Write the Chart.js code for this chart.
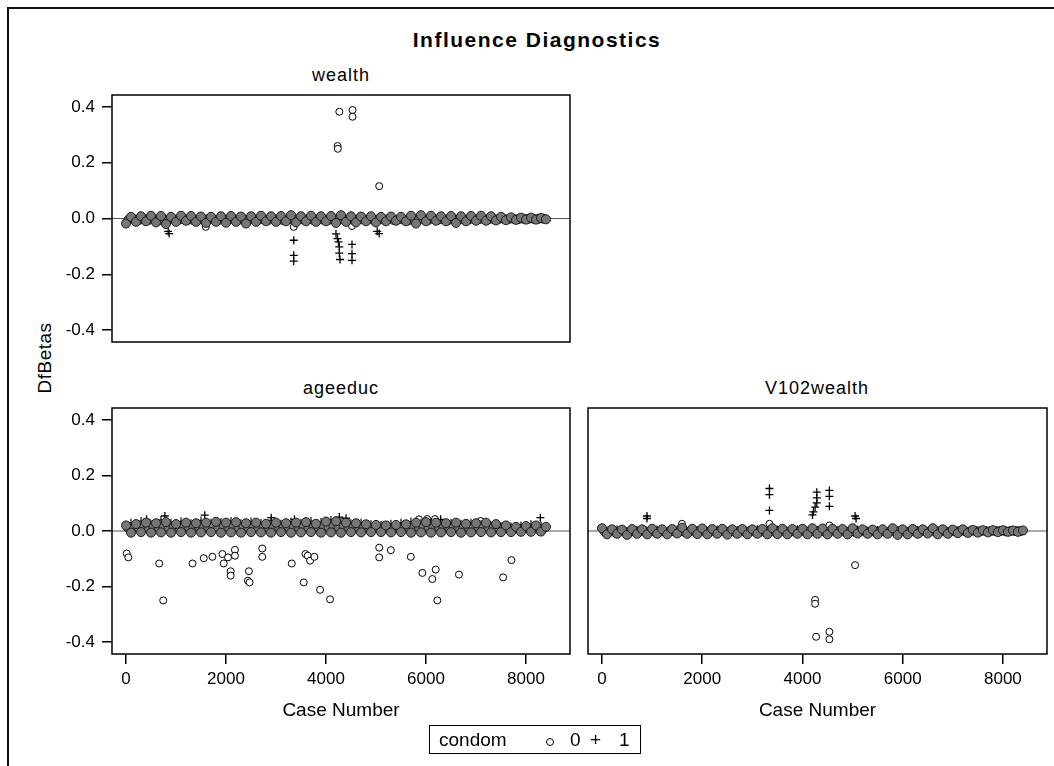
<!DOCTYPE html>
<html>
<head>
<meta charset="utf-8">
<title>Influence Diagnostics</title>
<script src="https://cdn.jsdelivr.net/npm/chart.js@4.4.1/dist/chart.umd.min.js"></script>
<style>
  body { margin: 0; background: #fff; width: 1054px; height: 766px; overflow: hidden; position: relative;
         font-family: "Liberation Sans", Arial, sans-serif; color: #000; }
  canvas { position: absolute; left: 0; top: 0; }
  .frame { position: absolute; left: 7px; top: 7px; width: 1200px; height: 900px; border: 2px solid #111; }
  .lbl { position: absolute; white-space: nowrap; line-height: 1; transform: translateX(-50%); }
  .title { left: 537px; top: 29px; font-size: 21px; font-weight: bold; letter-spacing: 1.5px; }
  .ptitle { font-size: 18px; letter-spacing: 1px; }
  .ylab { left: 44px; top: 358px; font-size: 19px; letter-spacing: 0.5px; transform: translate(-50%, -50%) rotate(-90deg); }
  .legend { position: absolute; left: 429px; top: 725px; width: 210px; height: 27px; border: 1.5px solid #000; }
  .legend span { position: absolute; font-size: 19px; line-height: 1; top: 4px; }
  .legend .dot { width: 6px; height: 6px; border: 1.2px solid #000; border-radius: 50%; top: 12px; }
</style>
</head>
<body>
<div class="frame"></div>
<div class="lbl title">Influence Diagnostics</div>
<div class="lbl ptitle" style="left:341px;top:66px">wealth</div>
<div class="lbl ptitle" style="left:341px;top:379px">ageeduc</div>
<div class="lbl ptitle" style="left:817px;top:379px">V102wealth</div>
<div class="lbl ylab">DfBetas</div>

<canvas id="wealthChart" width="1054" height="766"></canvas>
<canvas id="ageeducChart" width="1054" height="766"></canvas>
<canvas id="v102Chart" width="1054" height="766"></canvas>

<div class="legend">
  <span style="left:9px">condom</span>
  <span class="dot" style="left:116px"></span>
  <span style="left:140px">0</span>
  <span style="left:160px">+</span>
  <span style="left:189px">1</span>
</div>

<script>
// axis ticks
const xTicks = [0, 2000, 4000, 6000, 8000];
const xTickLabels = ["0", "2000", "4000", "6000", "8000"];
const yTicks = [-0.4, -0.2, 0, 0.2, 0.4];
const yTickLabels = ["-0.4", "-0.2", "0.0", "0.2", "0.4"];

// the dense band of cases near zero (condom = 0 circles, condom = 1 pluses)
const bandCases = [0,100,200,300,400,500,600,700,800,900,
  1000,1100,1200,1300,1400,1500,1600,1700,1800,1900,
  2000,2100,2200,2300,2400,2500,2600,2700,2800,2900,
  3000,3100,3200,3300,3400,3500,3600,3700,3800,3900,
  4000,4100,4200,4300,4400,4500,4600,4700,4800,4900,
  5000,5100,5200,5300,5400,5500,5600,5700,5800,5900,
  6000,6100,6200,6300,6400,6500,6600,6700,6800,6900,
  7000,7100,7200,7300,7400,7500,7600,7700,7800,7900,
  8000,8100,8200,8300,8400];
const midCases = [50,150,250,350,450,550,650,750,850,950,
  1050,1150,1250,1350,1450,1550,1650,1750,1850,1950,
  2050,2150,2250,2350,2450,2550,2650,2750,2850,2950,
  3050,3150,3250,3350,3450,3550,3650,3750,3850,3950,
  4050,4150,4250,4350,4450,4550,4650,4750,4850,4950,
  5050,5150,5250,5350,5450,5550,5650,5750,5850,5950,
  6050,6150,6250,6350,6450,6550,6650,6750,6850,6950,
  7050,7150,7250,7350,7450,7550,7650,7750,7850,7950,
  8050,8150,8250,8350];
const plusCases = [100,300,500,700,900,1100,1300,1500,1700,1900,
  2100,2300,2500,2700,2900,3100,3300,3500,3700,3900,
  4100,4300,4500,4700,4900,5100,5300,5500,5700,5900,
  6100,6300,6500,6700,6900,7100,7300,7500,7700,7900,
  8100,8300];

const wealthBand0 = [-0.018,0.006,-0.012,0.008,-0.01,0.01,-0.014,0.009,-0.02,0.006,
  -0.012,0.01,-0.008,0.009,-0.012,0.007,-0.016,0.006,-0.012,0.008,
  -0.015,0.009,-0.012,0.007,-0.018,0.008,-0.012,0.01,-0.01,0.008,
  -0.012,0.009,-0.01,0.012,-0.014,0.008,-0.01,0.01,-0.012,0.008,
  -0.01,0.009,-0.016,0.012,-0.012,0.008,-0.014,0.007,-0.01,0.008,
  -0.014,0.006,-0.01,0.007,-0.008,0.006,-0.01,0.01,-0.018,0.012,
  -0.01,0.01,-0.008,0.008,-0.01,0.009,-0.016,0.008,-0.01,0.009,
  -0.008,0.01,-0.008,0.008,-0.007,0.006,-0.006,0.004,-0.005,0.003,
  -0.004,0.003,-0.004,0.002,-0.003];
const wealthMid = [-0.004,-0.002,-0.006,-0.001,-0.005,-0.003,-0.007,-0.002,-0.004,-0.003,
  -0.005,-0.002,-0.004,-0.006,-0.003,-0.005,-0.002,-0.004,-0.006,-0.003,
  -0.004,-0.002,-0.005,-0.003,-0.006,-0.002,-0.004,-0.003,-0.005,-0.002,
  -0.004,-0.006,-0.003,-0.005,-0.002,-0.004,-0.003,-0.006,-0.002,-0.004,
  -0.005,-0.003,-0.006,-0.002,-0.004,-0.005,-0.003,-0.004,-0.002,-0.005,
  -0.003,-0.004,-0.002,-0.005,-0.003,-0.004,-0.006,-0.002,-0.004,-0.003,
  -0.005,-0.002,-0.004,-0.003,-0.005,-0.002,-0.004,-0.003,-0.004,-0.002,
  -0.003,-0.002,-0.003,-0.002,-0.002,-0.001,-0.002,-0.001,-0.002,-0.001,
  -0.001,-0.001,-0.001,-0.001];
const wealthBand1 = [0.004,-0.006,0.005,-0.004,0.006,-0.005,0.003,-0.006,0.005,-0.004,
  0.004,-0.005,0.006,-0.004,0.005,-0.006,0.007,-0.005,0.004,-0.006,
  0.006,-0.004,0.005,-0.003,0.004,-0.005,0.006,-0.004,0.005,-0.003,
  0.004,-0.004,0.005,-0.003,0.004,-0.003,0.003,-0.002,0.003,-0.002,
  0.002,-0.002];
const wealthCircCases = [4266,4531,4531,4232,4236,5064,1595,3355,4520];
const wealthCircVals = [0.383,0.389,0.365,0.26,0.25,0.116,-0.03,-0.03,-0.027];
const wealthPlusCases = [843,863,3355,3355,3355,4200,4230,4250,4266,4266,4280,4520,4520,4520,5024,5064];
const wealthPlusVals = [-0.046,-0.054,-0.078,-0.132,-0.153,-0.055,-0.072,-0.084,-0.102,-0.124,-0.147,-0.093,-0.126,-0.15,-0.046,-0.054];

const ageeducBand0 = [0.02,-0.006,0.025,-0.004,0.03,-0.006,0.028,-0.005,0.032,-0.006,
  0.025,-0.004,0.03,-0.006,0.028,-0.005,0.03,-0.004,0.033,-0.006,
  0.03,-0.005,0.032,-0.006,0.028,-0.004,0.03,-0.005,0.026,-0.006,
  0.03,-0.004,0.028,-0.006,0.03,-0.005,0.032,-0.004,0.026,-0.006,
  0.034,-0.005,0.035,-0.006,0.03,-0.004,0.028,-0.005,0.024,-0.004,
  0.022,-0.004,0.02,-0.005,0.022,-0.004,0.024,-0.006,0.03,-0.005,
  0.032,-0.006,0.03,-0.005,0.028,-0.004,0.03,-0.006,0.026,-0.005,
  0.028,-0.004,0.03,-0.005,0.025,-0.004,0.02,-0.004,0.015,-0.003,
  0.018,-0.003,0.02,-0.002,0.015];
const ageeducMid = [0.01,0.014,0.012,0.016,0.011,0.015,0.013,0.017,0.012,0.014,
  0.016,0.012,0.015,0.013,0.017,0.011,0.014,0.016,0.012,0.015,
  0.013,0.016,0.012,0.014,0.011,0.015,0.013,0.016,0.012,0.014,
  0.015,0.012,0.014,0.016,0.013,0.015,0.011,0.014,0.013,0.016,
  0.015,0.017,0.014,0.016,0.013,0.014,0.012,0.013,0.011,0.012,
  0.011,0.01,0.012,0.011,0.013,0.012,0.014,0.015,0.016,0.014,
  0.015,0.013,0.016,0.012,0.014,0.013,0.015,0.012,0.013,0.014,
  0.013,0.015,0.012,0.013,0.011,0.01,0.009,0.008,0.008,0.009,
  0.009,0.01,0.008,0.009];
const ageeducBand1 = [0.03,0.036,0.025,0.04,0.03,0.035,0.028,0.038,0.03,0.032,
  0.036,0.028,0.034,0.03,0.038,0.026,0.034,0.03,0.036,0.032,
  0.04,0.034,0.028,0.03,0.024,0.022,0.026,0.03,0.034,0.03,
  0.032,0.028,0.03,0.026,0.03,0.024,0.02,0.018,0.016,0.02,
  0.025,0.02];
const ageeducCircCases = [14,46,664,744,1330,1555,1728,1928,1954,2040,
  2093,2093,2179,2179,2438,2472,2458,2725,2725,3315,
  3555,3589,3634,3682,3768,3882,4081,5064,5064,5297,
  5696,5927,6126,6194,6226,6659,7542,7709,5861,6021,
  6180,6600,7091];
const ageeducCircVals = [-0.081,-0.095,-0.117,-0.25,-0.117,-0.098,-0.093,-0.083,-0.117,-0.095,
  -0.145,-0.161,-0.068,-0.089,-0.179,-0.185,-0.145,-0.063,-0.093,-0.117,
  -0.185,-0.083,-0.089,-0.107,-0.093,-0.212,-0.246,-0.06,-0.095,-0.069,
  -0.093,-0.151,-0.173,-0.139,-0.25,-0.157,-0.167,-0.105,0.042,0.043,
  0.043,0.03,0.036];
const ageeducPlusCases = [412,777,1575,2904,3369,4266,4400,6293,8287];
const ageeducPlusVals = [0.042,0.054,0.057,0.048,0.042,0.05,0.046,0.042,0.048];

const v102Band0 = [0.01,-0.012,0.006,-0.01,0.005,-0.014,0.007,-0.01,0.006,-0.012,
  0.008,-0.01,0.006,-0.012,0.007,-0.009,0.012,-0.01,0.008,-0.011,
  0.009,-0.012,0.007,-0.01,0.008,-0.013,0.006,-0.01,0.007,-0.012,
  0.006,-0.01,0.007,-0.012,0.01,-0.011,0.008,-0.012,0.007,-0.01,
  0.008,-0.012,0.01,-0.01,0.009,-0.012,0.008,-0.01,0.007,-0.012,
  0.01,-0.009,0.006,-0.01,0.005,-0.012,0.006,-0.01,0.01,-0.014,
  0.006,-0.012,0.007,-0.01,0.006,-0.009,0.01,-0.012,0.006,-0.01,
  0.005,-0.008,0.006,-0.007,0.004,-0.006,0.003,-0.005,0.003,-0.004,
  0.003,-0.003,0.002,-0.003,0.002];
const v102Mid = [-0.002,0.0,-0.003,-0.001,-0.002,-0.004,-0.001,-0.002,0.0,-0.003,
  -0.001,-0.002,-0.003,0.0,-0.002,-0.001,-0.003,-0.002,0.0,-0.002,
  -0.001,-0.003,-0.002,0.0,-0.002,-0.001,-0.003,-0.002,-0.001,0.0,
  -0.002,-0.003,-0.001,-0.002,0.0,-0.002,-0.001,-0.003,-0.002,-0.001,
  -0.002,0.0,-0.002,-0.001,-0.003,-0.002,-0.001,0.0,-0.002,-0.001,
  -0.003,-0.002,0.0,-0.002,-0.001,-0.002,-0.003,-0.001,-0.002,0.0,
  -0.002,-0.001,-0.003,-0.002,-0.001,0.0,-0.002,-0.001,-0.002,-0.001,
  -0.001,0.0,-0.001,-0.001,0.0,-0.001,0.0,-0.001,0.0,0.0,
  -0.001,0.0,0.0,0.0];
const v102Band1 = [-0.004,0.006,-0.005,0.004,-0.006,0.005,-0.003,0.006,-0.005,0.004,
  -0.004,0.005,-0.006,0.004,-0.005,0.006,-0.007,0.005,-0.004,0.006,
  -0.006,0.004,-0.005,0.003,-0.004,0.005,-0.006,0.004,-0.005,0.003,
  -0.004,0.004,-0.005,0.003,-0.004,0.003,-0.003,0.002,-0.003,0.002,
  -0.002,0.002];
const v102CircCases = [5050,4252,4252,4272,4537,4537,1595,3341,4537];
const v102CircVals = [-0.123,-0.248,-0.262,-0.381,-0.363,-0.39,0.026,0.026,0.02];
const v102PlusCases = [3341,3341,3341,4286,4286,4286,4252,4219,4200,4537,4537,4537,897,897,5050,5070];
const v102PlusVals = [0.153,0.131,0.074,0.14,0.119,0.101,0.086,0.069,0.058,0.146,0.125,0.089,0.054,0.045,0.054,0.045];

const FONT = "'Liberation Sans', Arial, sans-serif";

/* ==============================
   FRAME + ZERO LINE
============================== */
const panelFrame = {
  id: "panelFrame",
  beforeDatasetsDraw(chart) {
    const { ctx, chartArea: a, scales } = chart;
    const y0 = scales.y.getPixelForValue(0);
    ctx.save();
    ctx.strokeStyle = "#555";
    ctx.lineWidth = 1;
    ctx.beginPath();
    ctx.moveTo(a.left, y0);
    ctx.lineTo(a.right, y0);
    ctx.stroke();
    ctx.restore();
  },
  afterDatasetsDraw(chart) {
    const { ctx, chartArea: a } = chart;
    ctx.save();
    ctx.strokeStyle = "#000";
    ctx.lineWidth = 1.5;
    ctx.strokeRect(a.left, a.top, a.right - a.left, a.bottom - a.top);
    ctx.restore();
  }
};

function toPoints(cases, vals) {
  return cases.map((c, i) => ({ x: c, y: vals[i] }));
}

/* ==============================
   ONE PANEL
============================== */
function drawPanel(id, padding, showX, showY, band0, mid0, band1, circCases, circVals, plusCases2, plusVals) {
  const canvas = document.getElementById(id);
  const bandStyle = { pointStyle: "circle", pointRadius: 4.5,
    backgroundColor: "#767676", borderColor: "#1c1c1c", borderWidth: 1 };
  return new Chart(canvas.getContext("2d"), {
    type: "scatter",
    data: {
      datasets: [
        { data: toPoints(bandCases, band0), ...bandStyle },
        { data: toPoints(midCases, mid0), ...bandStyle },
        { data: toPoints(plusCases, band1), pointStyle: "cross", pointRadius: 4,
          borderColor: "#111", borderWidth: 1.2 },
        { data: toPoints(circCases, circVals), pointStyle: "circle", pointRadius: 3.5,
          backgroundColor: "#fff", borderColor: "#000", borderWidth: 1 },
        { data: toPoints(plusCases2, plusVals), pointStyle: "cross", pointRadius: 4,
          borderColor: "#000", borderWidth: 1.3 }
      ]
    },
    options: {
      responsive: false,
      animation: false,
      events: [],
      layout: { padding },
      plugins: { legend: { display: false }, tooltip: { enabled: false } },
      scales: {
        x: {
          type: "linear", min: -280, max: 8880, display: showX,
          afterBuildTicks: s => { s.ticks = xTicks.map(v => ({ value: v })); },
          afterFit: s => { s.height = showX ? 70 : 0; },
          grid: { drawOnChartArea: false, drawTicks: true, tickLength: 10, color: "#000", lineWidth: 1.5 },
          border: { display: false },
          ticks: { color: "#000", padding: 5, maxRotation: 0, font: { family: FONT, size: 17 },
                   callback: v => xTickLabels[xTicks.indexOf(v)] },
          title: { display: true, text: "Case Number", color: "#000",
                   font: { family: FONT, size: 19 }, padding: { top: 0, bottom: 2 } }
        },
        y: {
          type: "linear", min: -0.443, max: 0.443, display: showY,
          afterBuildTicks: s => { s.ticks = yTicks.map(v => ({ value: v })); },
          afterFit: s => { s.width = showY ? 100 : 0; },
          grid: { drawOnChartArea: false, drawTicks: true, tickLength: 10, color: "#000", lineWidth: 1.5 },
          border: { display: false },
          ticks: { color: "#000", padding: 7, font: { family: FONT, size: 17 },
                   callback: v => yTickLabels[yTicks.indexOf(v)] }
        }
      }
    },
    plugins: [panelFrame]
  });
}

drawPanel("wealthChart", { left: 12, top: 95, right: 484, bottom: 424 }, false, true,
  wealthBand0, wealthMid, wealthBand1, wealthCircCases, wealthCircVals, wealthPlusCases, wealthPlusVals);
drawPanel("ageeducChart", { left: 12, top: 408, right: 484, bottom: 42 }, true, true,
  ageeducBand0, ageeducMid, ageeducBand1, ageeducCircCases, ageeducCircVals, ageeducPlusCases, ageeducPlusVals);
drawPanel("v102Chart", { left: 588, top: 408, right: 7, bottom: 42 }, true, false,
  v102Band0, v102Mid, v102Band1, v102CircCases, v102CircVals, v102PlusCases, v102PlusVals);
</script>
</body>
</html>
